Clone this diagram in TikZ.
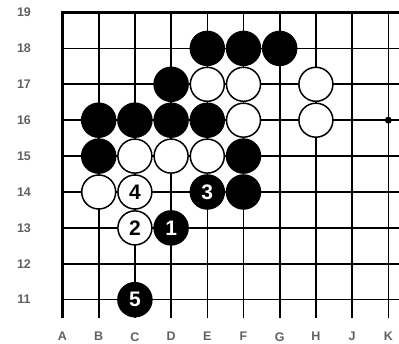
\documentclass[tikz,border=0pt]{standalone}
\usepackage{fontspec}
\setmainfont{Liberation Sans}
\begin{document}
\begin{tikzpicture}[x=1pt,y=-1pt,
  grid/.style={line width=1.6pt, black},
  edge/.style={line width=3.4pt, black, line join=miter},
  numfont/.style={font=\bfseries\fontsize{21}{21}\selectfont},
  bstone/.style={circle, fill=black, minimum size=35.5pt, inner sep=0pt, text=white, numfont},
  wstone/.style={circle, draw=black, fill=white, line width=1.5pt, minimum size=34pt, inner sep=0pt, text=black, numfont},
  hoshi/.style={circle, fill=black, minimum size=7pt, inner sep=0pt},
  lbl/.style={font=\bfseries\fontsize{12.5}{12.5}\selectfont, text=black!62}]
\useasboundingbox (0,0) rectangle (399,344);
\foreach \i/\l in {0/A,1/B,2/C,3/D,4/E,5/F,6/G,7/H,8/J,9/K}{
  \foreach \r in {11,...,19}{
    \coordinate (\l\r) at ({62.5+36.2*\i},{12.5+35.9*(19-\r)});
  }
}
\coordinate (R) at (399,0);
\coordinate (bot) at (0,318);
% grid
\foreach \r in {11,...,18} \draw[grid] (A\r) -- (A\r -| R);
\foreach \l in {B,C,D,E,F,G,H,J,K} \draw[grid] (\l19) -- (\l19 |- bot);
\draw[edge] (A19 |- bot) -- (A19) -- (A19 -| R);
\node[hoshi] (hk16) at (K16) {};
% labels
\foreach \r in {11,...,19} \node[lbl] (row\r) at ([xshift=-38.5pt]A\r) {\r};
\foreach \l in {A,B,C,D,E,F,G,H,J,K} \node[lbl] (col\l) at ([yshift=-37pt]\l11) {\l};
% black stones
\foreach \p in {E18,F18,G18,D17,B16,C16,D16,E16,B15,F15,F14}
  \node[bstone] (b\p) at (\p) {};
% white stones
\foreach \p in {E17,F17,H17,F16,H16,C15,D15,E15,B14}
  \node[wstone] (w\p) at (\p) {};
% numbered moves
\node[bstone] (m1) at (D13) {1};
\node[wstone] (m2) at (C13) {2};
\node[bstone] (m3) at (E14) {3};
\node[wstone] (m4) at (C14) {4};
\node[bstone] (m5) at (C11) {5};
\end{tikzpicture}
\end{document}
